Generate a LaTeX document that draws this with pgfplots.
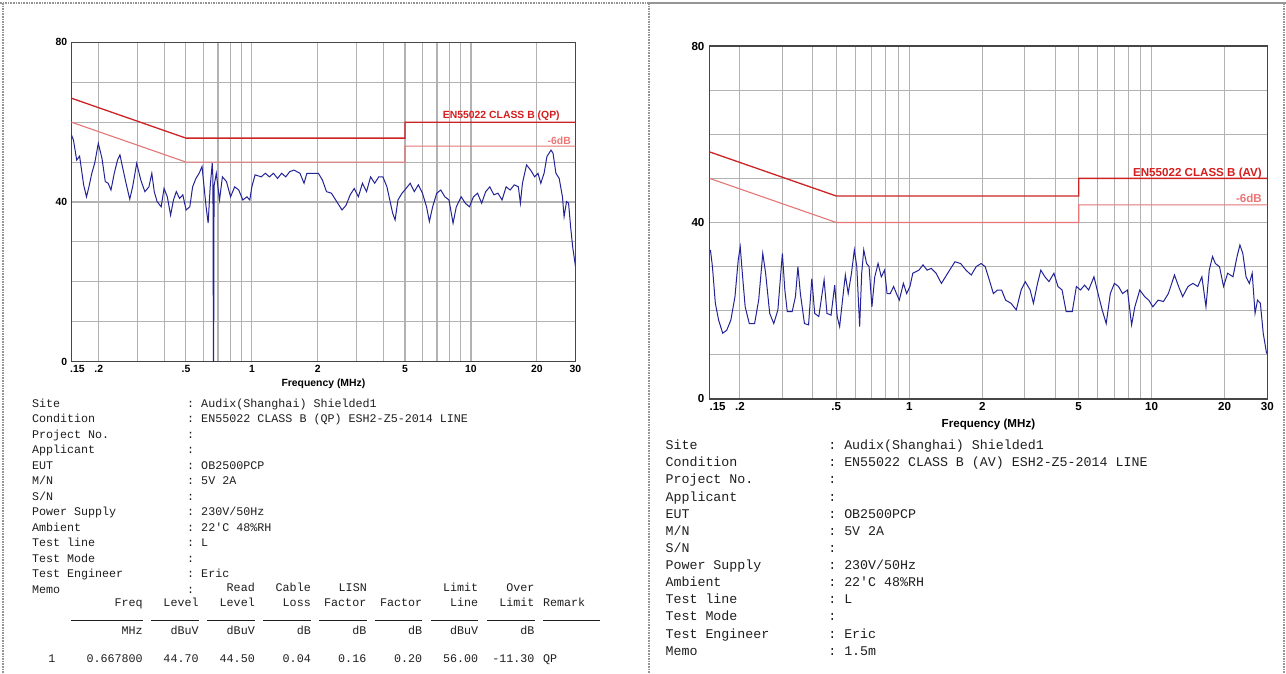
\documentclass[border=0pt]{standalone}
\usepackage{fontspec}
\setmainfont{Liberation Sans}
\setmonofont{Liberation Mono}
\usepackage{pgfplots}
\usepackage{pgfplotstable}
\pgfplotsset{compat=1.18}
\definecolor{gridgray}{RGB}{178,178,178}
\definecolor{axgray}{RGB}{70,70,70}
\definecolor{trace}{RGB}{35,35,150}
\definecolor{limred}{RGB}{204,36,36}
\definecolor{limpink}{RGB}{228,118,118}
\definecolor{labred}{RGB}{214,30,30}
\definecolor{labpink}{RGB}{236,118,118}
\definecolor{txt}{RGB}{30,30,30}
\definecolor{dotgray}{RGB}{150,150,150}

\newcommand\axfL{\bfseries\fontsize{10.4}{12}\selectfont}
\newcommand\axfR{\bfseries\fontsize{11.6}{13}\selectfont}
\newcommand\monoL{\ttfamily\fontsize{11.7}{15.5}\selectfont}
\newcommand\monoR{\ttfamily\fontsize{13.3}{17.1}\selectfont}

\pgfplotstableread{
f L
0.1500 56.8
0.1533 55.5
0.1586 50.5
0.1635 51.5
0.1706 44.3
0.1758 41.3
0.1804 43.8
0.1859 47.2
0.1916 49.7
0.1991 54.7
0.2069 50.9
0.2142 45.1
0.2207 44.7
0.2274 43.0
0.2354 47.2
0.2436 50.5
0.2499 51.8
0.2564 48.9
0.2654 45.1
0.2770 40.7
0.2855 43.8
0.2980 49.7
0.3111 45.5
0.3247 42.6
0.3389 43.8
0.3493 47.2
0.3584 42.6
0.3693 40.1
0.3855 38.8
0.3973 43.4
0.4111 41.3
0.4255 36.7
0.4385 40.5
0.4518 42.6
0.4676 40.9
0.4839 41.8
0.5008 38.0
0.5206 38.8
0.5364 43.8
0.5552 45.9
0.5745 47.2
0.5921 48.9
0.6049 43.8
0.6180 38.8
0.6314 34.7
0.6451 43.8
0.6591 49.7
0.6640 46.0
0.6675 0
0.6690 0
0.6720 44.0
0.6878 47.2
0.7118 40.5
0.7335 46.3
0.7658 45.1
0.7994 41.3
0.8344 43.8
0.8711 43.0
0.9093 40.5
0.9492 41.3
0.9781 40.5
0.9993 43.8
1.0342 46.8
1.1028 46.3
1.1512 47.2
1.2017 46.3
1.2544 47.2
1.3094 45.9
1.3668 47.2
1.4268 46.3
1.4890 47.6
1.5543 48.0
1.6574 47.2
1.7301 44.7
1.7829 47.2
1.8852 47.2
2.0105 47.2
2.0982 45.5
2.1905 42.6
2.3067 42.2
2.4387 40.1
2.5787 38.0
2.6916 39.2
2.8097 41.8
2.9330 43.4
3.0617 41.3
3.1959 44.7
3.3360 42.6
3.4824 46.3
3.6351 44.7
3.7946 46.3
3.9611 46.3
4.1346 43.8
4.2606 40.5
4.3904 37.2
4.5051 35.5
4.6425 40.5
4.8450 42.2
5.0576 43.4
5.2793 44.7
5.5109 42.6
5.7525 44.3
6.0050 42.2
6.2682 38.8
6.4593 35.1
6.6849 38.8
6.9780 42.2
7.2843 43.0
7.6037 41.3
7.9371 40.5
8.2851 34.7
8.5722 38.8
9.0257 41.3
9.4209 39.7
9.8343 38.8
10.265 41.3
10.716 42.2
11.186 39.7
11.676 42.6
12.188 43.8
12.722 41.8
13.280 42.2
13.863 40.5
14.469 43.8
15.102 43.0
15.765 44.3
16.456 43.8
16.813 39.7
17.178 44.7
17.931 49.3
18.718 48.0
19.538 46.3
20.220 47.2
20.837 44.7
21.564 47.2
22.221 51.4
23.196 53.0
23.699 52.2
24.420 47.2
25.274 45.9
26.156 41.3
26.609 36.3
27.300 40.1
27.893 39.7
28.500 33.8
29.117 28.8
30.000 23.8
}\qpdata

\pgfplotstableread{
f L
0.1512 33.8
0.1541 30.0
0.1584 21.7
0.1634 17.9
0.1699 14.9
0.1766 15.6
0.1836 17.9
0.1909 23.2
0.1969 31.5
0.2007 34.5
0.2047 28.5
0.2103 20.9
0.2187 17.1
0.2300 17.1
0.2391 22.4
0.2486 33.0
0.2554 28.5
0.2655 19.4
0.2760 17.1
0.2870 20.2
0.2995 33.0
0.3066 24.7
0.3138 19.8
0.3287 19.8
0.3391 23.2
0.3471 30.0
0.3553 23.9
0.3694 17.1
0.3841 16.8
0.3962 27.3
0.4071 19.4
0.4233 18.7
0.4452 27.0
0.4575 19.4
0.4755 19.0
0.4924 25.8
0.5040 18.7
0.5159 16.4
0.5322 23.2
0.5447 28.1
0.5597 23.9
0.5774 28.5
0.5933 33.8
0.6073 30.0
0.6240 16.4
0.6363 28.5
0.6488 33.8
0.6667 30.7
0.6824 30.0
0.7012 20.9
0.7205 27.7
0.7433 30.7
0.7667 27.7
0.7908 29.2
0.8095 23.9
0.8350 23.9
0.8614 25.5
0.8851 23.9
0.9095 22.4
0.9455 26.2
0.9754 23.9
1.0062 25.5
1.0339 28.5
1.0958 29.2
1.1392 30.4
1.1844 29.2
1.2314 29.6
1.2901 28.5
1.3570 26.2
1.4107 27.7
1.4668 29.2
1.5427 31.1
1.6290 30.7
1.7133 29.2
1.8020 28.1
1.8880 30.0
1.9779 30.7
2.0562 30.0
2.1381 27.0
2.2229 23.9
2.3109 24.7
2.4027 24.7
2.4978 22.4
2.6271 21.7
2.7626 20.2
2.8946 24.7
3.0093 26.6
3.1530 24.7
3.2525 21.7
3.3815 26.2
3.4884 29.2
3.6266 27.7
3.7703 26.6
3.9504 28.5
4.1069 25.5
4.2696 24.7
4.4385 19.8
4.7040 19.8
4.8905 25.5
5.0843 24.7
5.2857 25.8
5.4951 24.7
5.7798 27.7
6.0090 23.9
6.2472 20.2
6.4946 17.1
6.7518 23.9
7.0194 26.2
7.2962 25.5
7.5851 23.9
7.9463 24.7
8.2640 16.8
8.5250 20.9
8.9316 24.7
9.3560 23.2
9.7263 22.4
10.112 20.9
10.636 22.4
11.187 22.1
11.720 23.9
12.423 28.1
12.915 25.5
13.427 23.2
14.122 25.5
14.795 26.2
15.501 25.5
16.116 27.7
16.753 20.9
17.283 29.2
17.829 32.3
18.321 30.7
19.047 30.0
19.800 25.5
20.585 28.5
21.651 27.7
22.509 32.3
23.130 34.9
23.766 33.0
24.516 27.7
25.292 26.2
25.989 28.5
26.706 19.4
27.336 22.4
28.089 21.7
28.863 14.9
29.800 10.3
}\avdata

\newcommand\infoL[3]{%
  \node[anchor=base west,inner sep=0pt,font=\monoL,text=txt] at (31.8,-#1) {#2};
  \node[anchor=base west,inner sep=0pt,font=\monoL,text=txt] at (187,-#1) {:\ #3};}
\newcommand\infoR[3]{%
  \node[anchor=base west,inner sep=0pt,font=\monoR,text=txt] at (665.4,-#1) {#2};
  \node[anchor=base west,inner sep=0pt,font=\monoR,text=txt] at (828.1,-#1) {:\ #3};}
\newcommand\tr[3]{\node[anchor=base east,inner sep=0pt,font=\monoL,text=txt] at (#1,-#2) {#3};}
\newcommand\tl[3]{\node[anchor=base west,inner sep=0pt,font=\monoL,text=txt] at (#1,-#2) {#3};}

\begin{document}
\begin{tikzpicture}[x=1pt,y=1pt]
\path[use as bounding box] (0,0) rectangle (1286,-674);
% panel borders
\draw[dotgray, densely dotted, line width=1.6pt] (0,-3) -- (649,-3);
\draw[dotgray, densely dotted, line width=1.6pt] (3,-3) -- (3,-674);
\draw[dotgray, densely dotted, line width=1.6pt] (649,-3) -- (649,-674);
\draw[dotgray, densely dotted, line width=1.6pt] (1284,-3) -- (1284,-674);
\draw[dotgray, line width=1.4pt] (649,-3) -- (1286,-3);

% ---------------- left axis (QP)
\begin{axis}[
  xmode=log, scale only axis, xmin=0.15, xmax=30, ymin=0, ymax=80,
  at={(71.4pt,-361.7pt)}, anchor=south west,
  width=504.1pt, height=319.4pt,
  axis line style={draw=axgray, line width=1.2pt},
  grid=both,
  major grid style={draw=gridgray, line width=1.1pt},
  minor grid style={draw=gridgray, line width=1.1pt},
  xtick={0.15,0.2,0.5,1,2,5,10,20,30},
  minor xtick={0.3,0.4,0.6,0.7,0.8,0.9,3,4,6,7,8,9},
  ytick={0,40,80}, yticklabels={0,40,80},
  minor ytick={10,20,30,50,60,70},
  major tick length=0pt, minor tick length=0pt,
  xticklabel style={anchor=north, inner sep=0pt, yshift=-3.5pt},
  yticklabel style={anchor=east, inner sep=0pt, xshift=-4pt},
  ticklabel style={font=\axfL},
  xticklabels={\hspace*{12pt}.15,.2,.5,1,2,5,10,20,30},
  xlabel={Frequency (MHz)},
  xlabel style={font=\axfL, at={(axis description cs:0.5,0)}, anchor=base, yshift=-24.3pt, inner sep=0pt},
]
\addplot[limpink, line width=1.1pt] coordinates {(0.15,60) (0.5,50) (5,50) (5,54) (30,54)};
\addplot[limred, line width=1.3pt] coordinates {(0.15,66) (0.5,56) (5,56) (5,60) (30,60)};
\addplot[trace, line width=1.0pt] table[x=f,y=L] {\qpdata};
\node[anchor=base west, inner sep=0pt, font=\axfL, yshift=5pt] at (rel axis cs:0,1) {Level (dBuV)};
\node[anchor=base east, inner sep=0pt, font=\axfL, text=labred] at (rel axis cs:0.969,0.7625) {EN55022 CLASS B (QP)};
\node[anchor=base east, inner sep=0pt, font=\axfL, text=labpink] at (rel axis cs:0.991,0.6816) {-6dB};
\end{axis}

% ---------------- right axis (AV)
\begin{axis}[
  xmode=log, scale only axis, xmin=0.15, xmax=30, ymin=0, ymax=80,
  at={(709.6pt,-399pt)}, anchor=south west,
  width=557.7pt, height=353pt,
  axis line style={draw=axgray, line width=1.2pt},
  grid=both,
  major grid style={draw=gridgray, line width=1.1pt},
  minor grid style={draw=gridgray, line width=1.1pt},
  xtick={0.15,0.2,0.5,1,2,5,10,20,30},
  minor xtick={0.3,0.4,0.6,0.7,0.8,0.9,3,4,6,7,8,9},
  ytick={0,40,80}, yticklabels={0,40,80},
  minor ytick={10,20,30,50,60,70},
  major tick length=0pt, minor tick length=0pt,
  xticklabel style={anchor=north, inner sep=0pt, yshift=-3.5pt},
  yticklabel style={anchor=east, inner sep=0pt, xshift=-5pt},
  ticklabel style={font=\axfR},
  xticklabels={\hspace*{16pt}.15,.2,.5,1,2,5,10,20,30},
  xlabel={Frequency (MHz)},
  xlabel style={font=\axfR, at={(axis description cs:0.5,0)}, anchor=base, yshift=-28pt, inner sep=0pt},
]
\addplot[limpink, line width=1.1pt] coordinates {(0.15,50) (0.5,40) (5,40) (5,44) (30,44)};
\addplot[limred, line width=1.3pt] coordinates {(0.15,56) (0.5,46) (5,46) (5,50) (30,50)};
\addplot[trace, line width=1.0pt] table[x=f,y=L] {\avdata};
\node[anchor=base west, inner sep=0pt, font=\axfR, yshift=6pt] at (rel axis cs:0,1) {Level (dBuV)};
\node[anchor=base east, inner sep=0pt, font=\axfR, text=labred] at (rel axis cs:0.9905,0.6317) {EN55022 CLASS B (AV)};
\node[anchor=base east, inner sep=0pt, font=\axfR, text=labpink] at (rel axis cs:0.9905,0.557) {-6dB};
\end{axis}

% ---------------- left info text
\infoL{407}{Site}{Audix(Shanghai) Shielded1}
\infoL{422.5}{Condition}{EN55022 CLASS B (QP) ESH2-Z5-2014 LINE}
\infoL{438}{Project No.}{}
\infoL{453.5}{Applicant}{}
\infoL{469}{EUT}{OB2500PCP}
\infoL{484.5}{M/N}{5V 2A}
\infoL{500}{S/N}{}
\infoL{515.5}{Power Supply}{230V/50Hz}
\infoL{531}{Ambient}{22'C 48\%RH}
\infoL{546.5}{Test line}{L}
\infoL{562}{Test Mode}{}
\infoL{577.5}{Test Engineer}{Eric}
\infoL{593}{Memo}{}

% table
\tr{255}{591}{Read}
\tr{311}{591}{Cable}
\tr{367}{591}{LISN}
\tr{478.4}{591}{Limit}
\tr{534.7}{591}{Over}
\tr{142.9}{606}{Freq}
\tr{198.8}{606}{Level}
\tr{255}{606}{Level}
\tr{311}{606}{Loss}
\tr{366.5}{606}{Factor}
\tr{422.4}{606}{Factor}
\tr{478.4}{606}{Line}
\tr{534.7}{606}{Limit}
\tl{542.9}{606}{Remark}
\foreach \a/\b in {71.4/142.9, 151/198.8, 207/255, 263/311, 319/366.5, 374.7/422.4, 431.4/478.4, 487/534.7, 543/600}
  \draw[txt, line width=0.8pt] (\a,-620) -- (\b,-620);
\tr{142.9}{634}{MHz}
\tr{198.8}{634}{dBuV}
\tr{255}{634}{dBuV}
\tr{311}{634}{dB}
\tr{366.5}{634}{dB}
\tr{422.4}{634}{dB}
\tr{478.4}{634}{dBuV}
\tr{534.7}{634}{dB}
\node[anchor=base,inner sep=0pt,font=\monoL,text=txt] at (51.8,-662) {1};
\tr{142.9}{662}{0.667800}
\tr{198.8}{662}{44.70}
\tr{255}{662}{44.50}
\tr{311}{662}{0.04}
\tr{366.5}{662}{0.16}
\tr{422.4}{662}{0.20}
\tr{478.4}{662}{56.00}
\tr{534.7}{662}{-11.30}
\tl{542.9}{662}{QP}

% ---------------- right info text
\infoR{449.7}{Site}{Audix(Shanghai) Shielded1}
\infoR{466.8}{Condition}{EN55022 CLASS B (AV) ESH2-Z5-2014 LINE}
\infoR{483.9}{Project No.}{}
\infoR{501.1}{Applicant}{}
\infoR{518.2}{EUT}{OB2500PCP}
\infoR{535.3}{M/N}{5V 2A}
\infoR{552.4}{S/N}{}
\infoR{569.5}{Power Supply}{230V/50Hz}
\infoR{586.7}{Ambient}{22'C 48\%RH}
\infoR{603.8}{Test line}{L}
\infoR{620.9}{Test Mode}{}
\infoR{638}{Test Engineer}{Eric}
\infoR{655.1}{Memo}{1.5m}
\end{tikzpicture}
\end{document}
